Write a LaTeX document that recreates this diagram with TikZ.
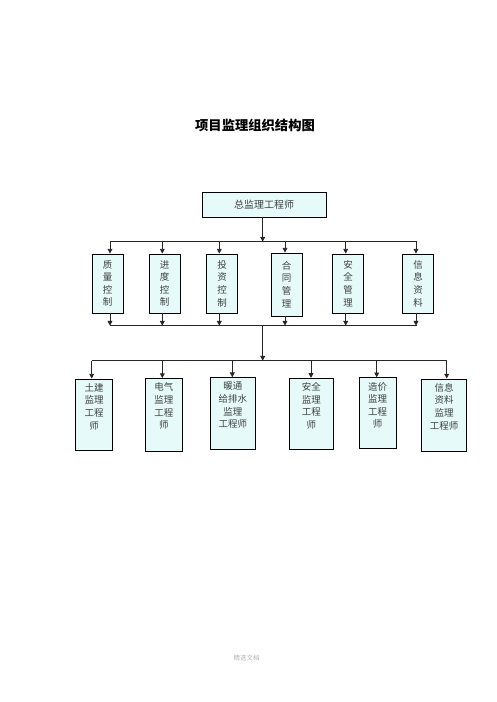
\documentclass[tikz,border=0pt]{standalone}
\usepackage{fontspec}
\newfontfamily\cjk{Noto Sans CJK SC}
\usetikzlibrary{arrows.meta}
\definecolor{boxfill}{HTML}{E6FAFA}
\begin{document}
\begin{tikzpicture}[x=1pt,y=-1pt,
  ln/.style={line width=0.9pt, draw=black!85},
  arr/.style={ln, -{Triangle[length=4.8pt,width=4.8pt]}},
  box/.style={draw=black, line width=0.8pt, fill=boxfill, inner sep=0pt,
    font=\cjk\fontsize{9.5}{12.6}\selectfont, text=black!75, align=center},
  lbl/.style={anchor=north, yshift=-4.5pt, inner sep=0pt, align=center,
    font=\cjk\fontsize{9.5}{12.6}\selectfont, text=black!75}]
\useasboundingbox (0,0) rectangle (496,702);
% title
\node[font=\cjk\bfseries\fontsize{13.3}{15}\selectfont] (title) at (255,125) {项目监理组织结构图};
% top box
\node[box, minimum width=124pt, minimum height=25pt, font=\cjk\fontsize{10}{12}\selectfont] (top) at (264,204.5) {总监理工程师};
% second row
\foreach \n/\x/\h/\yy/\t in {a1/107.5/59/283.5/质\\量\\控\\制, a2/164.5/59/283.5/进\\度\\控\\制, a3/222/59/283.5/投\\资\\控\\制, a4/286.5/63/284.5/合\\同\\管\\理, a5/348/59/283.5/安\\全\\管\\理, a6/418/59/283.5/信\\息\\资\\料}
  \node[box, minimum width=31pt, minimum height=\h pt] (\n) at (\x,\yy) {\t};
% third row
\node[box, minimum width=36.6pt, minimum height=71pt, label={[lbl]north:土建\\监理\\工程\\师}] (c1) at (94,414.5) {};
\node[box, minimum width=37pt, minimum height=73pt, label={[lbl]north:电气\\监理\\工程\\师}] (c2) at (163.8,415) {};
\node[box, minimum width=44.3pt, minimum height=71.3pt, label={[lbl]north:暖通\\给排水\\监理\\工程师}] (c3) at (232.8,413.3) {};
\node[box, minimum width=44pt, minimum height=70.7pt, label={[lbl]north:安全\\监理\\工程\\师}] (c4) at (311.3,413.7) {};
\node[box, minimum width=36.7pt, minimum height=70.6pt, label={[lbl]north:造价\\监理\\工程\\师}] (c5) at (377.7,413) {};
\node[box, minimum width=45pt, minimum height=72.7pt, label={[lbl]north:信息\\资料\\监理\\工程师}] (c6) at (444.2,415.3) {};
% buses
\coordinate (s1) at (262.7,241.7);
\coordinate (s2) at (262.7,325.7);
\coordinate (s3) at (262.7,360.7);
\draw[arr] (top.south -| s1) -- (s1);
\draw[ln] (110,241.7) coordinate (b1l) -- (416.7,241.7) coordinate (b1r);
\foreach \n/\x in {a1/110, a2/162.3, a3/219.3, a4/285, a5/345.7, a6/416}{
  \draw[arr] (\x,241.7) -- (\x,0 |- \n.north);
  \draw[arr] (\x,0 |- \n.south) -- (\x,325.7);
}
\draw[ln] (110,325.7) -- (416.7,325.7);
\draw[arr] (s2) -- (s3);
\draw[ln] (91.7,360.7) -- (446.7,360.7);
\foreach \n/\x in {c1/91.7, c2/162.3, c3/232.3, c4/311, c5/376.7, c6/446.7}
  \draw[arr] (\x,360.7) -- (\x,0 |- \n.north);
% footer
\node[font=\cjk\fontsize{6.5}{8}\selectfont, text=black!30] (foot) at (246.7,657.5) {精选文档};
\end{tikzpicture}
\end{document}
